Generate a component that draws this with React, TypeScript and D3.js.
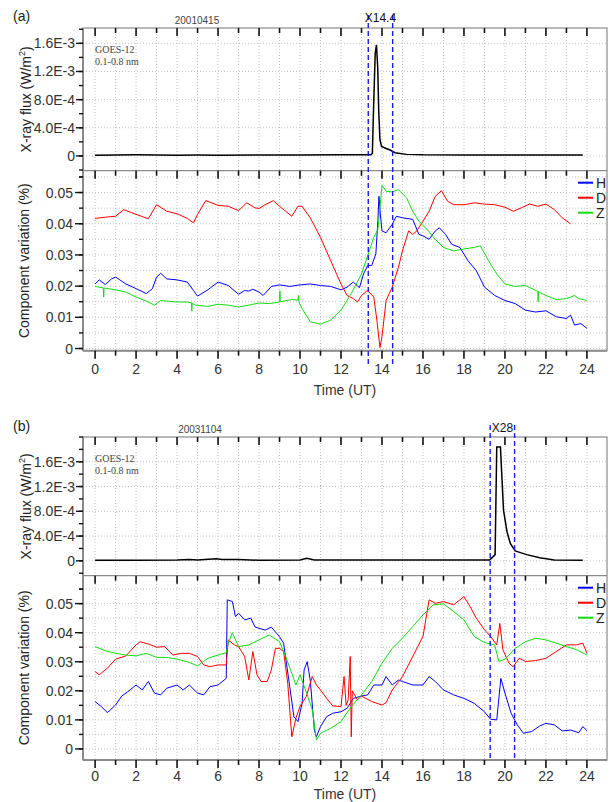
import React from "react";
import * as d3 from "d3";

type Pt = [number, number];

// hours of the day on the x axis
const hourTicks = d3.range(0, 25);
const hourLabels = hourTicks.filter((h) => h % 2 === 0);

const fluxTicks = [0, 4e-4, 8e-4, 1.2e-3, 1.6e-3];
const fluxTickLabels = ["0", "4.0E-4", "8.0E-4", "1.2E-3", "1.6E-3"];
const compTicks = [0, 0.01, 0.02, 0.03, 0.04, 0.05];
const compTickLabels = ["0", "0.01", "0.02", "0.03", "0.04", "0.05"];

const legendNames = ["H", "D", "Z"];
const legendColors = ["#0000ff", "#ff0000", "#11dd11"];

// (a) 2001-04-15, X14.4
const fluxA: Pt[] = [
  [0, 1.0e-5], [1, 1.2e-5], [2, 1.5e-5], [3, 1.2e-5], [4, 1.0e-5], [5, 1.2e-5],
  [6, 1.0e-5], [8, 1.2e-5], [10, 1.4e-5], [12, 1.5e-5], [13.45, 1.6e-5],
  [13.53, 3.5e-5], [13.6, 7.9e-4], [13.67, 1.46e-3], [13.73, 1.58e-3],
  [13.79, 1.27e-3], [13.84, 6.5e-4], [13.9, 2.3e-4], [13.98, 1.35e-4],
  [14.2, 1.05e-4], [14.4, 8.4e-5], [14.63, 4.5e-5], [15.2, 2.2e-5], [16, 1.6e-5],
  [18, 1.4e-5], [20, 1.4e-5], [22, 1.4e-5], [23.8, 1.4e-5],
];

const hA: Pt[] = [
  [0, 0.0207], [0.2, 0.022], [0.5, 0.0205], [0.8, 0.0223], [1, 0.0229], [1.5, 0.0207],
  [2, 0.0192], [2.5, 0.0176], [2.8, 0.0192], [3, 0.0229], [3.2, 0.0241], [3.5, 0.0223],
  [4, 0.022], [4.5, 0.0213], [4.8, 0.0186], [5, 0.0168], [5.5, 0.0188], [6, 0.0213],
  [6.5, 0.0202], [7, 0.0174], [7.3, 0.0186], [7.5, 0.0184], [7.7, 0.019], [8, 0.0181],
  [8.2, 0.017], [8.6, 0.0199], [9, 0.0204], [9.5, 0.0199], [10, 0.0204], [10.5, 0.0207],
  [11, 0.0202], [11.5, 0.0199], [12, 0.0188], [12.3, 0.0197], [12.6, 0.0213],
  [12.9, 0.0195], [13.1, 0.0239], [13.3, 0.0266], [13.5, 0.0266], [13.7, 0.0303],
  [13.8, 0.041], [13.85, 0.0488], [13.92, 0.043], [14, 0.0377], [14.2, 0.0371],
  [14.5, 0.0398], [14.7, 0.0424], [15, 0.0419], [15.5, 0.0414], [15.8, 0.0366],
  [16, 0.0361], [16.3, 0.035], [16.6, 0.0377], [16.8, 0.0387], [17.1, 0.0366],
  [17.4, 0.0334], [17.8, 0.0324], [18.2, 0.0281], [18.6, 0.025], [19, 0.0197],
  [19.5, 0.017], [20, 0.0154], [20.5, 0.0144], [21, 0.0123], [21.5, 0.0117],
  [22, 0.0121], [22.5, 0.0102], [23, 0.0096], [23.2, 0.0107], [23.4, 0.0075],
  [23.7, 0.008], [24, 0.0065],
];

const dA: Pt[] = [
  [0, 0.0417], [0.5, 0.0421], [1, 0.0424], [1.4, 0.0445], [2, 0.043], [2.6, 0.0416],
  [3, 0.0461], [3.5, 0.044], [4, 0.0432], [4.5, 0.0417], [4.8, 0.0403], [5, 0.043],
  [5.4, 0.0474], [6, 0.0459], [6.5, 0.0456], [7, 0.0442], [7.4, 0.0467], [7.8, 0.0451],
  [8, 0.0449], [8.3, 0.0461], [8.7, 0.0474], [9, 0.0456], [9.3, 0.044], [9.6, 0.0424],
  [9.9, 0.0456], [10.1, 0.0456], [10.5, 0.0419], [11, 0.0356], [11.5, 0.0281],
  [12, 0.0207], [12.3, 0.017], [12.6, 0.016], [12.8, 0.0149], [13, 0.017],
  [13.3, 0.0186], [13.6, 0.0165], [13.75, 0.0091], [13.9, 0.0003], [14, 0.0038],
  [14.2, 0.0154], [14.5, 0.0197], [14.8, 0.026], [15, 0.0313], [15.3, 0.0377],
  [15.5, 0.0366], [15.7, 0.0377], [16, 0.0408], [16.3, 0.044], [16.6, 0.0488],
  [16.9, 0.0506], [17.2, 0.0472], [17.5, 0.0461], [18, 0.0461], [18.5, 0.0467],
  [19, 0.0463], [19.5, 0.0461], [20, 0.0453], [20.4, 0.044], [20.8, 0.0451],
  [21.2, 0.0463], [21.6, 0.0456], [22, 0.0463], [22.4, 0.0446], [22.8, 0.0419],
  [23.2, 0.04],
];

const zA: Pt[] = [
  [0, 0.0199], [0.4, 0.0194], [0.42, 0.0165], [0.44, 0.0194], [1, 0.0188],
  [1.5, 0.0181], [2, 0.0165], [2.5, 0.0152], [2.9, 0.0139], [3.2, 0.0154],
  [3.5, 0.0152], [4, 0.0149], [4.5, 0.0149], [4.7, 0.0147], [4.72, 0.012],
  [4.74, 0.0145], [4.9, 0.0139], [5.5, 0.0135], [6, 0.0142], [6.5, 0.0139],
  [7, 0.0133], [7.5, 0.0139], [8, 0.0146], [8.5, 0.0144], [9, 0.0149],
  [9.02, 0.0185], [9.04, 0.015], [9.6, 0.0157], [9.9, 0.0155], [9.92, 0.017],
  [9.94, 0.015], [10.1, 0.0128], [10.5, 0.0086], [11, 0.0078], [11.5, 0.0091],
  [12, 0.0123], [12.5, 0.0176], [13, 0.0239], [13.3, 0.0297], [13.6, 0.0356],
  [13.8, 0.0382], [13.9, 0.045], [14, 0.0523], [14.2, 0.0504], [14.5, 0.0502],
  [14.8, 0.0509], [15.2, 0.0483], [15.5, 0.044], [15.8, 0.0408], [16.2, 0.0382],
  [16.6, 0.035], [17, 0.0324], [17.5, 0.0313], [18, 0.0319], [18.5, 0.0324],
  [18.8, 0.0329], [19.2, 0.0281], [19.6, 0.0239], [20, 0.0207], [20.5, 0.0199],
  [21, 0.0202], [21.5, 0.0186], [21.6, 0.0183], [21.62, 0.015], [21.64, 0.0182],
  [22, 0.017], [22.5, 0.0157], [23, 0.016], [23.4, 0.017], [23.6, 0.016],
  [24, 0.0154],
];

// (b) 2003-11-04, X28
const fluxB: Pt[] = [
  [0, 1.0e-5], [2, 1.0e-5], [4, 1.2e-5], [4.6, 2e-5], [5, 1.2e-5], [5.9, 3.5e-5],
  [6.2, 2.0e-5], [7, 2e-5], [8, 1.0e-5], [10, 1.2e-5], [10.33, 4.0e-5],
  [10.7, 1.5e-5], [12, 1.2e-5], [14, 1.2e-5], [16, 1.5e-5], [18, 1.2e-5],
  [19.25, 1.4e-5], [19.4, 6e-5], [19.52, 1.0e-4], [19.6, 1.84e-3], [19.78, 1.84e-3],
  [19.85, 1.36e-3], [19.93, 8.2e-4], [20.1, 4.7e-4], [20.26, 2.8e-4], [20.5, 1.6e-4],
  [21.06, 1.0e-4], [21.7, 5e-5], [22.4, 1.5e-5], [23.8, 1.0e-5],
];

const hB: Pt[] = [
  [0, 0.0163], [0.3, 0.0146], [0.6, 0.0125], [1, 0.0151], [1.3, 0.0182], [1.6, 0.0197],
  [2, 0.022], [2.3, 0.0203], [2.6, 0.0232], [2.9, 0.0192], [3.2, 0.0186], [3.5, 0.0209],
  [4, 0.022], [4.3, 0.0203], [4.6, 0.022], [5, 0.0192], [5.3, 0.0186], [5.6, 0.0214],
  [6, 0.022], [6.4, 0.0243], [6.45, 0.0513], [6.7, 0.0507], [6.85, 0.0455],
  [7, 0.0467], [7.3, 0.0444], [7.6, 0.045], [7.8, 0.042], [8, 0.0415], [8.3, 0.0409],
  [8.6, 0.0419], [9, 0.0386], [9.2, 0.0364], [9.5, 0.0214], [9.7, 0.0111],
  [9.9, 0.0094], [10.1, 0.0157], [10.2, 0.0272], [10.35, 0.03], [10.5, 0.0237],
  [10.7, 0.0065], [10.8, 0.0042], [11, 0.0077], [11.3, 0.0111], [11.6, 0.0123],
  [12, 0.0128], [12.3, 0.014], [12.6, 0.0174], [13, 0.0182], [13.3, 0.0186],
  [13.6, 0.022], [14, 0.022], [14.2, 0.0249], [14.5, 0.022], [14.8, 0.0237],
  [15, 0.0232], [15.5, 0.022], [16, 0.022], [16.3, 0.0249], [16.6, 0.0232],
  [17, 0.0203], [17.5, 0.0186], [18, 0.0174], [18.5, 0.0157], [19, 0.0128],
  [19.3, 0.0102], [19.6, 0.01], [19.8, 0.0243], [20, 0.0192], [20.3, 0.0123],
  [20.6, 0.0083], [20.9, 0.0054], [21.3, 0.006], [21.7, 0.0079], [22, 0.0088],
  [22.4, 0.0083], [22.8, 0.0062], [23.2, 0.0065], [23.6, 0.0056], [23.8, 0.0077],
  [24, 0.0063],
];

const dB: Pt[] = [
  [0, 0.0266], [0.2, 0.0255], [0.6, 0.0278], [1, 0.0309], [1.5, 0.032], [2, 0.0358],
  [2.2, 0.0369], [2.6, 0.0361], [3, 0.035], [3.4, 0.0352], [3.8, 0.0323], [4.2, 0.0329],
  [4.6, 0.0329], [5, 0.0318], [5.3, 0.0289], [5.6, 0.0283], [6, 0.0289], [6.4, 0.0289],
  [6.5, 0.0375], [6.8, 0.0358], [7, 0.0352], [7.3, 0.0318], [7.5, 0.0237],
  [7.7, 0.0335], [7.9, 0.0255], [8.1, 0.0232], [8.4, 0.0232], [8.6, 0.0272],
  [8.8, 0.0346], [9, 0.0346], [9.2, 0.0335], [9.4, 0.0226], [9.6, 0.0042],
  [9.8, 0.0106], [10, 0.0146], [10.3, 0.018], [10.6, 0.0249], [10.8, 0.022],
  [11, 0.0203], [11.3, 0.0174], [11.6, 0.0148], [12, 0.0146], [12.15, 0.0249],
  [12.25, 0.015], [12.35, 0.0169], [12.45, 0.0318], [12.5, 0.0042], [12.55, 0.02],
  [12.8, 0.0169], [13, 0.0182], [13.5, 0.0163], [14, 0.0151], [14.2, 0.0159],
  [14.5, 0.0203], [15, 0.0249], [15.5, 0.0318], [16, 0.0387], [16.3, 0.0513],
  [16.6, 0.0501], [17, 0.0507], [17.5, 0.0496], [18, 0.0524], [18.3, 0.049],
  [18.6, 0.045], [19, 0.041], [19.3, 0.0387], [19.6, 0.0358], [19.75, 0.0432],
  [19.9, 0.0341], [20.2, 0.0295], [20.4, 0.0283], [20.7, 0.0312], [21, 0.0301],
  [21.5, 0.0304], [22, 0.0312], [22.5, 0.0335], [23, 0.0358], [23.5, 0.0358],
  [23.8, 0.0364], [24, 0.0329],
];

const zB: Pt[] = [
  [0, 0.0352], [0.5, 0.0338], [1, 0.0329], [1.5, 0.0323], [2, 0.032], [2.5, 0.0329],
  [3, 0.0315], [3.5, 0.0315], [4, 0.0309], [4.5, 0.03], [5, 0.0286], [5.5, 0.0312],
  [6, 0.0323], [6.4, 0.0331], [6.5, 0.0364], [6.7, 0.04], [7, 0.0352], [7.5, 0.0358],
  [8, 0.0375], [8.5, 0.0392], [9, 0.0369], [9.3, 0.0318], [9.6, 0.026], [9.8, 0.022],
  [10, 0.0255], [10.3, 0.0197], [10.6, 0.0134], [10.8, 0.0031], [11, 0.0054],
  [11.5, 0.0071], [12, 0.0094], [12.5, 0.0146], [13, 0.0186], [13.5, 0.0232],
  [14, 0.0295], [14.5, 0.0346], [15, 0.0381], [15.5, 0.0421], [16, 0.0461],
  [16.5, 0.0496], [17, 0.0499], [17.5, 0.0473], [18, 0.0444], [18.5, 0.0387],
  [19, 0.0366], [19.5, 0.0358], [19.7, 0.0301], [20, 0.0309], [20.5, 0.0346],
  [21, 0.0369], [21.5, 0.0381], [22, 0.0375], [22.5, 0.0364], [23, 0.0352],
  [23.5, 0.0341], [24, 0.0323],
];

const font = "'Liberation Sans', Arial, sans-serif";
const serif = "'Liberation Serif', 'Times New Roman', serif";

const x = d3.scaleLinear().domain([-0.59, 24.98]).range([83, 607]);

function Panel(props: {
  tag: string;
  tagY: number;
  date: string;
  dateX: number;
  flare: string;
  flareWin: [number, number];
  flareTop: number;
  dashBottom: number;
  fluxTop: number;
  split: number;
  bottom: number;
  labelGap: number;
  timeGap: number;
  fluxDomain: [number, number];
  compDomain: [number, number];
  flux: Pt[];
  comps: Pt[][];
}) {
  const p = props;
  const yF = d3.scaleLinear().domain(p.fluxDomain).range([p.split, p.fluxTop]);
  const yC = d3.scaleLinear().domain(p.compDomain).range([p.bottom, p.split]);
  const [x0, x1] = x.range();
  const fluxLine = d3.line<Pt>().x((d) => x(d[0])).y((d) => yF(d[1]));
  const compLine = d3.line<Pt>().x((d) => x(d[0])).y((d) => yC(d[1]));
  const fluxMinor = d3.range(-2e-4, p.fluxDomain[1] + 1e-6, 2e-4);
  const compMinor = d3.range(0, p.compDomain[1] - 1e-4, 0.005);
  const grid = "#c4c4c4";
  const fluxMid = (p.fluxTop + p.split) / 2;
  const compMid = (p.split + p.bottom) / 2;

  return (
    <g fontFamily={font}>
      <text x={13} y={p.tagY} fontSize={14} fill="#222">{p.tag}</text>
      <text x={p.dateX} y={p.fluxTop - 4} fontSize={10} fill="#444" textAnchor="middle">
        {p.date}
      </text>

      {/* grid */}
      {hourTicks.map((h) => (
        <line key={"vg" + h} x1={x(h)} x2={x(h)} y1={p.fluxTop} y2={p.bottom}
          stroke={grid} strokeDasharray="1,2" />
      ))}
      {fluxTicks.map((v) => (
        <line key={"fg" + v} x1={x0} x2={x1} y1={yF(v)} y2={yF(v)} stroke={grid} strokeDasharray="1,2" />
      ))}
      {compMinor.map((v) => (
        <line key={"cg" + v} x1={x0} x2={x1} y1={yC(v)} y2={yC(v)} stroke={grid} strokeDasharray="1,2" />
      ))}

      {/* frame */}
      <rect x={x0} y={p.fluxTop} width={x1 - x0} height={p.bottom - p.fluxTop}
        fill="none" stroke="#8a8a8a" strokeWidth={1.2} />
      <line x1={x0} x2={x1} y1={p.split} y2={p.split} stroke="#8a8a8a" strokeWidth={1.2} />
      <line x1={x0} x2={x0} y1={p.fluxTop} y2={p.bottom} stroke="#8a8a8a" strokeWidth={2} />
      <line x1={x0} x2={x1} y1={p.bottom} y2={p.bottom} stroke="#8a8a8a" strokeWidth={2} />

      {/* hour ticks at the top of each chart and below the bottom axis */}
      {hourTicks.map((h) => {
        const len = h % 2 === 0 ? 8 : 5;
        return (
          <g key={"ht" + h} stroke="#111" strokeWidth={1.6}>
            <line x1={x(h)} x2={x(h)} y1={p.fluxTop} y2={p.fluxTop + len} />
            <line x1={x(h)} x2={x(h)} y1={p.split} y2={p.split + len} />
            <line x1={x(h)} x2={x(h)} y1={p.bottom} y2={p.bottom + len} />
          </g>
        );
      })}
      {hourLabels.map((h) => (
        <text key={"hl" + h} x={x(h)} y={p.bottom + p.labelGap} fontSize={14} fill="#333" textAnchor="middle">
          {h}
        </text>
      ))}
      <text x={(x0 + x1) / 2} y={p.bottom + p.timeGap} fontSize={14} fill="#333" textAnchor="middle">
        Time (UT)
      </text>

      {/* left axes */}
      {fluxMinor.map((v) => (
        <line key={"fm" + v} x1={x0 - 4} x2={x0} y1={yF(v)} y2={yF(v)} stroke="#111" strokeWidth={1.4} />
      ))}
      {fluxTicks.map((v, i) => (
        <g key={"ft" + v}>
          <line x1={x0 - 7} x2={x0} y1={yF(v)} y2={yF(v)} stroke="#111" strokeWidth={1.4} />
          <text x={x0 - 8} y={yF(v) + 5} fontSize={14} fill="#333" textAnchor="end">
            {fluxTickLabels[i]}
          </text>
        </g>
      ))}
      {compMinor.concat([0.055]).map((v) => (
        <line key={"cm" + v} x1={x0 - 4} x2={x0} y1={yC(v)} y2={yC(v)} stroke="#111" strokeWidth={1.4} />
      ))}
      {compTicks.map((v, i) => (
        <g key={"ct" + v}>
          <line x1={x0 - 8} x2={x0} y1={yC(v)} y2={yC(v)} stroke="#111" strokeWidth={1.4} />
          <text x={x0 - 10} y={yC(v) + 5} fontSize={14} fill="#333" textAnchor="end">
            {compTickLabels[i]}
          </text>
        </g>
      ))}
      <text transform={`translate(31,${fluxMid}) rotate(-90)`} fontSize={14} fill="#222" textAnchor="middle">
        X-ray flux (W/m<tspan fontSize={9} dy={-6}>2</tspan><tspan dy={6}>)</tspan>
      </text>
      <text transform={`translate(29,${compMid}) rotate(-90)`} fontSize={14} fill="#222" textAnchor="middle">
        Component variation (%)
      </text>

      {/* GOES label */}
      <text x={x(0)} y={p.fluxTop + 25} fontFamily={serif} fontSize={10} fill="#444">GOES-12</text>
      <text x={x(0)} y={p.fluxTop + 37} fontFamily={serif} fontSize={10} fill="#444">0.1-0.8 nm</text>

      {/* data */}
      <path d={fluxLine(p.flux) || ""} fill="none" stroke="#000" strokeWidth={1.5} />
      {p.comps.map((s, i) => (
        <path key={"c" + i} d={compLine(s) || ""} fill="none" stroke={legendColors[i]} strokeWidth={1} />
      ))}

      {/* flare window */}
      {p.flareWin.map((h) => (
        <line key={"fw" + h} x1={x(h)} x2={x(h)} y1={p.flareTop} y2={p.dashBottom}
          stroke="#1a1aff" strokeWidth={1.4} strokeDasharray="5,3" />
      ))}
      <text x={(x(p.flareWin[0]) + x(p.flareWin[1])) / 2} y={p.flareTop + 7} fontSize={12}
        fill="#111" textAnchor="middle">
        {p.flare}
      </text>

      {/* legend */}
      {legendNames.map((n, i) => (
        <g key={"lg" + n}>
          <line x1={578} x2={593} y1={p.split + 12 + i * 15} y2={p.split + 12 + i * 15}
            stroke={legendColors[i]} strokeWidth={2} />
          <text x={596} y={p.split + 17 + i * 15} fontSize={14} fill="#222">{n}</text>
        </g>
      ))}
    </g>
  );
}

export default function App() {
  return (
    <svg width={611} height={802} style={{ position: "absolute", left: 0, top: 0, background: "#fff" }}>
      <Panel tag="(a)" tagY={21} date="20010415" dateX={197} flare="X14.4" flareWin={[13.33, 14.52]}
        flareTop={15} dashBottom={367} fluxTop={28} split={170.7} bottom={350.7}
        labelGap={23} timeGap={44}
        fluxDomain={[-2.1e-4, 1.818e-3]} compDomain={[-0.0007, 0.057]}
        flux={fluxA} comps={[hA, dA, zA]} />
      <Panel tag="(b)" tagY={431} date="20031104" dateX={200} flare="X28" flareWin={[19.28, 20.47]}
        flareTop={425} dashBottom={760} fluxTop={437} split={575.7} bottom={760}
        labelGap={21} timeGap={39}
        fluxDomain={[-2.4e-4, 2.0e-3]} compDomain={[-0.0038, 0.0596]}
        flux={fluxB} comps={[hB, dB, zB]} />
    </svg>
  );
}
